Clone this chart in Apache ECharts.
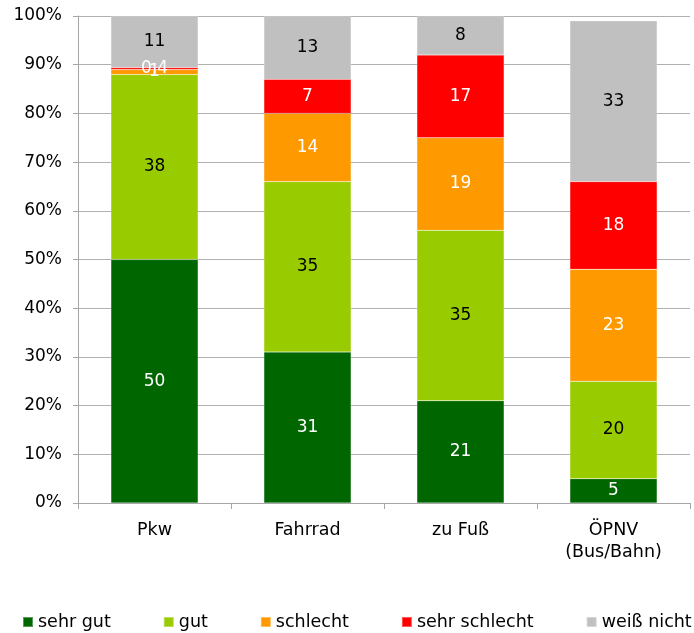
<!DOCTYPE html>
<html>
<head>
<meta charset="utf-8">
<script src="https://cdn.jsdelivr.net/npm/echarts@6/dist/echarts.min.js"></script>
<style>
  html, body { margin: 0; padding: 0; background: #fff; }
  #chart { width: 694px; height: 633px; }
</style>
</head>
<body>
<div id="chart"></div>
<script>
// Verkehrsmittel (Kategorien) und Bewertungsanteile in Prozent
const categories = ['Pkw', 'Fahrrad', 'zu Fuß', 'ÖPNV\n(Bus/Bahn)'];
const sehrGut = [50, 31, 21, 5];
const gut = [38, 35, 35, 20];
const schlecht = [1, 14, 19, 23];
const sehrSchlecht = [0.4, 7, 17, 18];
const weissNicht = [11, 13, 8, 33];
const yTicks = [0, 10, 20, 30, 40, 50, 60, 70, 80, 90, 100];

const fontFamily = '"DejaVu Sans", "Liberation Sans", Arial, sans-serif';

// Dezimalkomma für Werte unter 1
function fmt(v) {
  return String(v).replace('.', ',');
}

function makeSeries(name, data, color, labelColor) {
  return {
    name: name,
    type: 'bar',
    stack: 'total',
    data: data,
    barWidth: '57%',
    itemStyle: { color: color, borderColor: 'rgba(255,255,255,0.35)', borderWidth: 0.5 },
    label: {
      show: true,
      position: 'inside',
      color: labelColor,
      fontFamily: fontFamily,
      fontSize: 17,
      formatter: p => fmt(p.value)
    },
    emphasis: { disabled: true }
  };
}

const chart = echarts.init(document.getElementById('chart'), null, { renderer: 'canvas' });
chart.setOption({
  animation: false,
  backgroundColor: '#ffffff',
  grid: { left: 78, right: 4, top: 16, bottom: 130, containLabel: false },
  legend: {
    top: 613,
    left: 22,
    padding: 0,
    width: 1000,
    itemWidth: 10,
    itemHeight: 10,
    itemGap: 52,
    icon: 'rect',
    textStyle: { fontFamily: fontFamily, fontSize: 17.5, color: '#000' },
    data: ['sehr gut', 'gut', 'schlecht', 'sehr schlecht', 'weiß nicht']
  },
  xAxis: {
    type: 'category',
    data: categories,
    axisLine: { lineStyle: { color: '#a6a6a6', width: 1 } },
    axisTick: { show: true, length: 6, lineStyle: { color: '#a6a6a6' } },
    axisLabel: {
      fontFamily: fontFamily,
      fontSize: 17.5,
      color: '#000',
      margin: 16,
      lineHeight: 22
    }
  },
  yAxis: {
    type: 'value',
    min: yTicks[0],
    max: yTicks[yTicks.length - 1],
    interval: 10,
    axisLine: { show: true, lineStyle: { color: '#a6a6a6' } },
    axisTick: { show: true, length: 5, lineStyle: { color: '#a6a6a6' } },
    splitLine: { show: true, lineStyle: { color: '#b0b0b0', width: 1 } },
    axisLabel: {
      fontFamily: fontFamily,
      fontSize: 17,
      color: '#000',
      margin: 16,
      formatter: v => v + '%'
    }
  },
  series: [
    makeSeries('sehr gut', sehrGut, '#006600', '#ffffff'),
    makeSeries('gut', gut, '#99cc00', '#000000'),
    makeSeries('schlecht', schlecht, '#ff9900', '#ffffff'),
    makeSeries('sehr schlecht', sehrSchlecht, '#ff0000', '#ffffff'),
    makeSeries('weiß nicht', weissNicht, '#c0c0c0', '#000000')
  ]
});
</script>
</body>
</html>
